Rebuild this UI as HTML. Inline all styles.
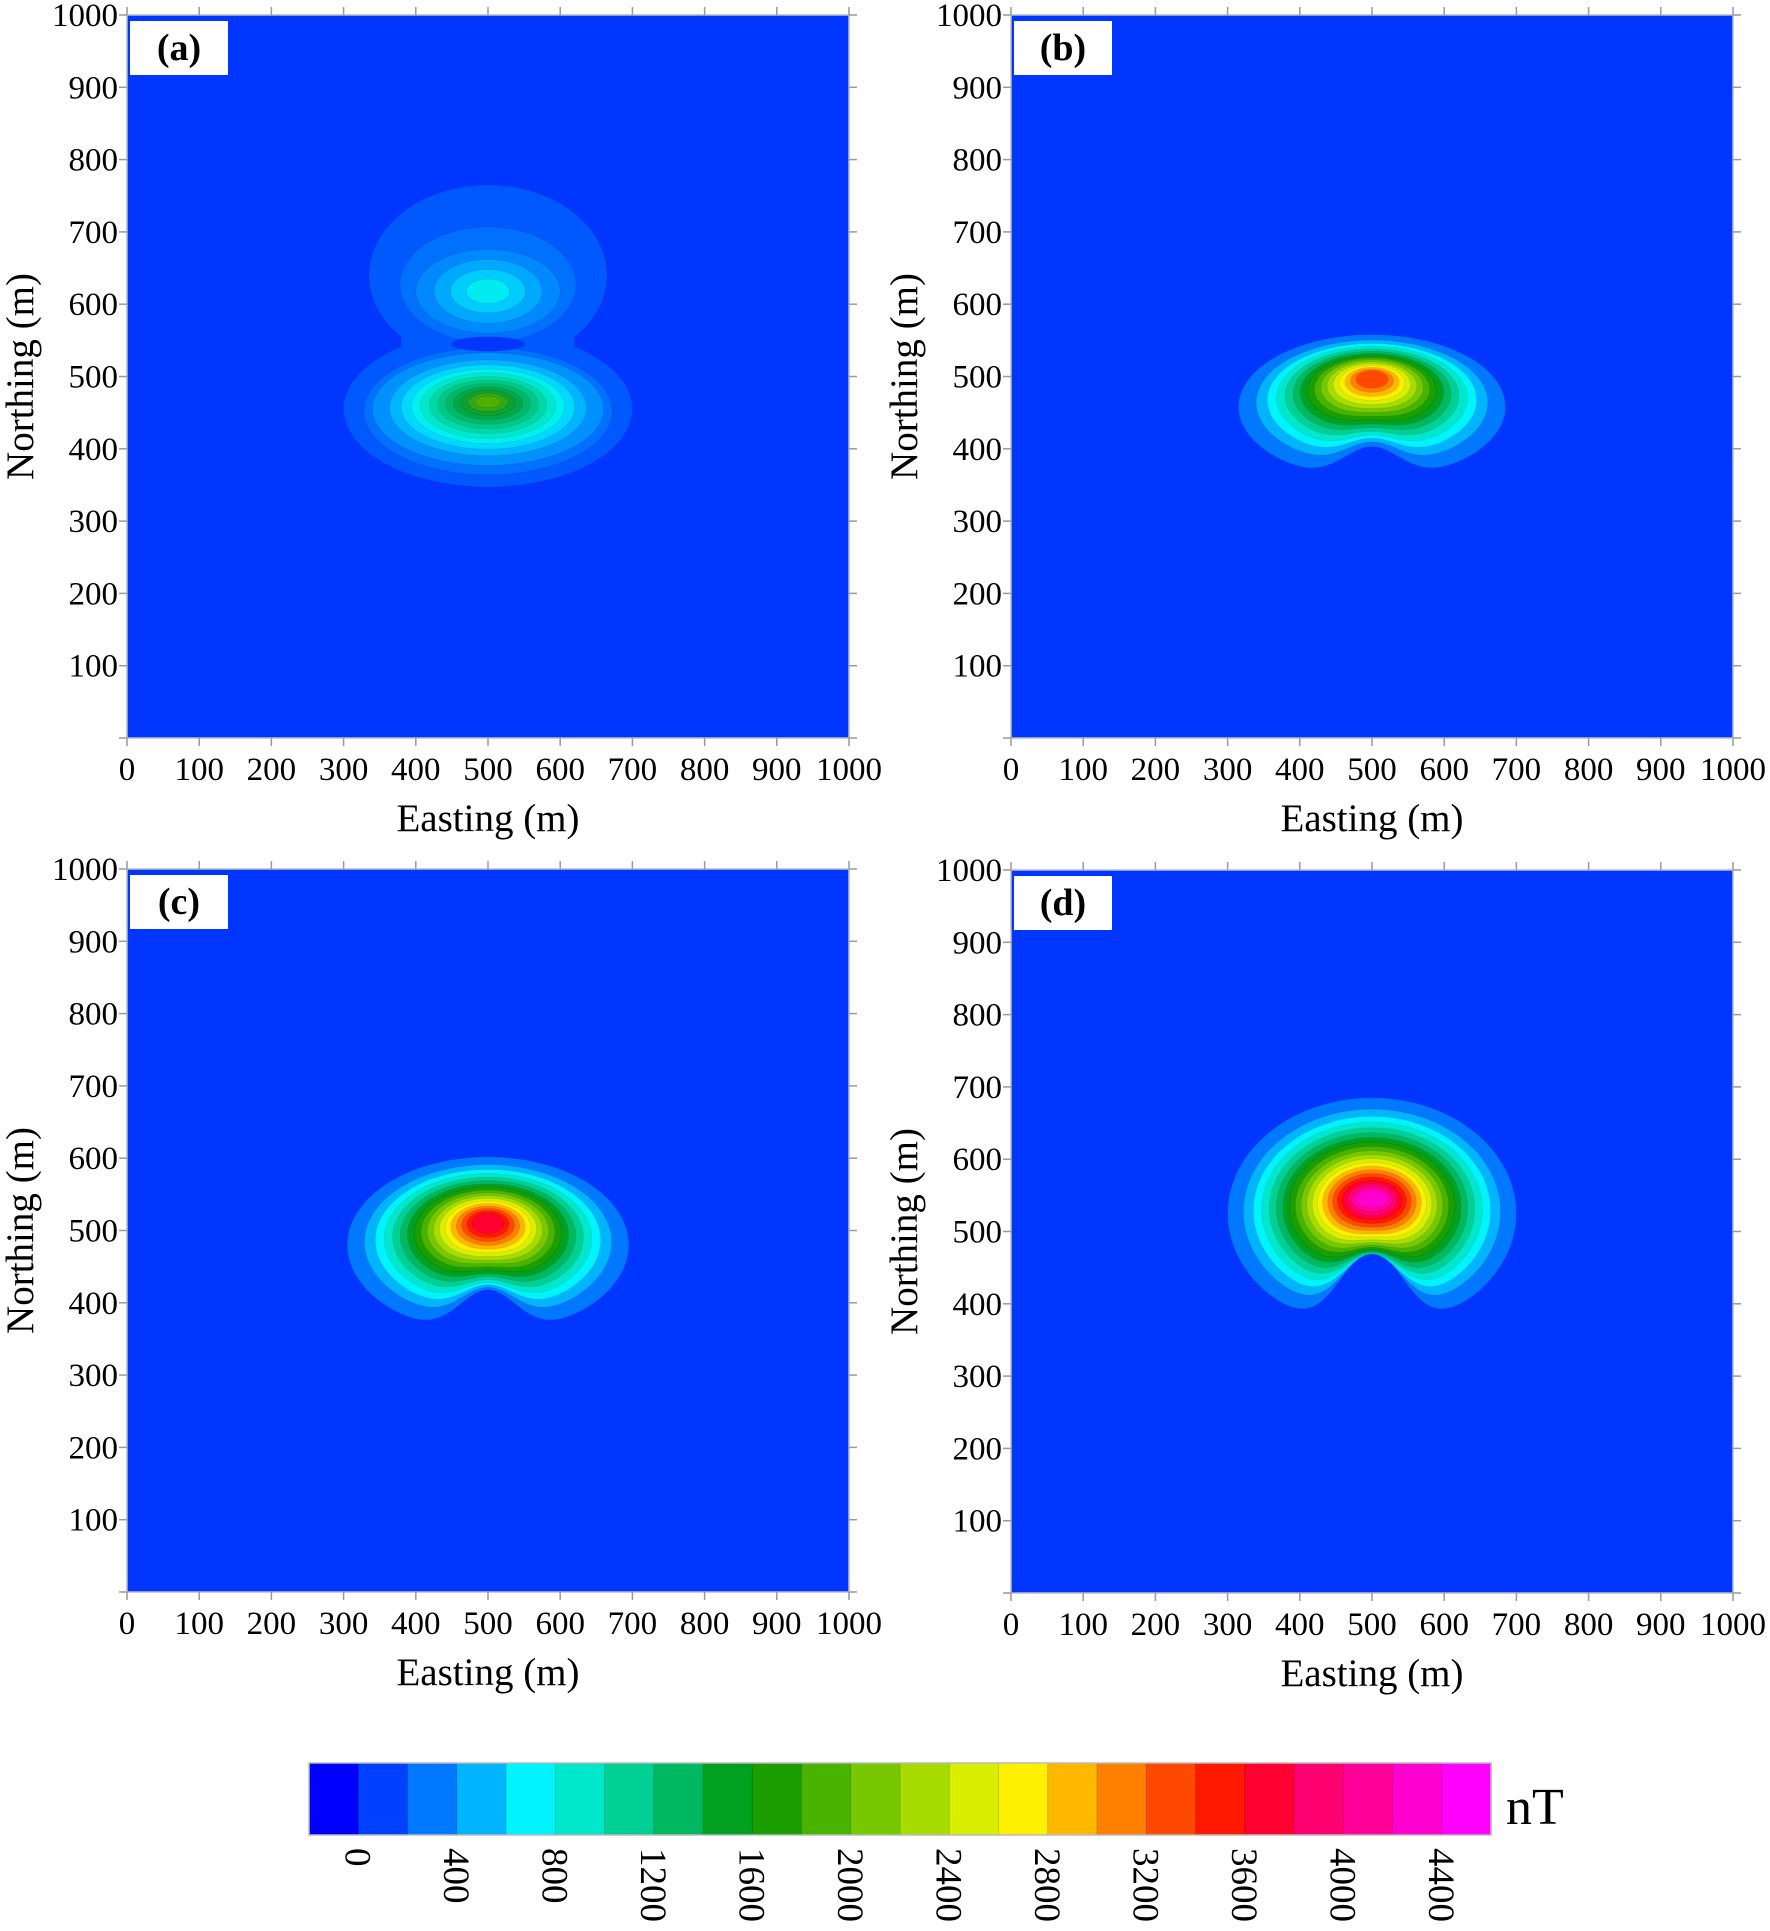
<!DOCTYPE html>
<html><head><meta charset="utf-8">
<style>
html,body{margin:0;padding:0;background:#fff;}
body{width:1770px;height:1931px;position:relative;overflow:hidden;font-family:"Liberation Serif",serif;}
svg{position:absolute;left:0;top:0;}
</style></head>
<body>
<svg id="s" width="1770" height="1931" viewBox="0 0 1770 1931" xmlns="http://www.w3.org/2000/svg"></svg>
<script>
var C=["#0000ff","#0040ff","#0078ff","#00b4ff","#00f4ff","#00e8cc","#00d094","#00b860","#00a020","#1a9e00","#48b400","#78c800","#a8dc00","#d8f000","#fff000","#ffb800","#ff8000","#ff4800","#ff1800","#ff0030","#ff0070","#ff0098","#ff00d0","#ff00ff"];
var BG="#0036ff";
var s=document.getElementById('s'),h='';
function lerp(a,b,t){return a+(b-a)*t;}
function panel(L,T,lab,draw){
 var W=722,H=723;
 h+='<rect x="'+L+'" y="'+T+'" width="'+W+'" height="'+H+'" fill="'+BG+'"/>';
 h+='<g transform="translate('+L+','+T+') scale('+(W/1000)+','+(H/1000)+')">'+draw()+'</g>';
 h+='<rect x="'+L+'" y="'+T+'" width="'+W+'" height="'+H+'" fill="none" stroke="#bbb" stroke-width="1.5"/>';
 for(var i=0;i<=10;i++){
  var x=L+W*i/10,y=T+H-H*i/10;
  h+='<line x1="'+x+'" y1="'+(T+H)+'" x2="'+x+'" y2="'+(T+H+8)+'" stroke="#999" stroke-width="1.5"/>';
  h+='<line x1="'+x+'" y1="'+T+'" x2="'+x+'" y2="'+(T-8)+'" stroke="#999" stroke-width="1.5"/>';
  h+='<line x1="'+L+'" y1="'+y+'" x2="'+(L-8)+'" y2="'+y+'" stroke="#999" stroke-width="1.5"/>';
  h+='<line x1="'+(L+W)+'" y1="'+y+'" x2="'+(L+W+8)+'" y2="'+y+'" stroke="#999" stroke-width="1.5"/>';
  h+='<text x="'+x+'" y="'+(T+H+42)+'" font-size="33" text-anchor="middle">'+(i*100)+'</text>';
  if(i>0)h+='<text x="'+(L-9)+'" y="'+(y+11)+'" font-size="33" text-anchor="end">'+(i*100)+'</text>';
 }
 h+='<text x="'+(L+W/2)+'" y="'+(T+H+93)+'" font-size="39" text-anchor="middle">Easting (m)</text>';
 h+='<text transform="translate('+(L-94)+','+(T+H/2)+') rotate(-90)" font-size="39" text-anchor="middle">Northing (m)</text>';
 h+='<rect x="'+(L+3)+'" y="'+(T+6)+'" width="98" height="54" fill="#fff"/>';
 h+='<text x="'+(L+52)+'" y="'+(T+45)+'" font-size="38" font-weight="bold" text-anchor="middle">'+lab+'</text>';
}
function ell(cx,cy,rx,ry,c){return '<ellipse cx="'+cx+'" cy="'+(1000-cy)+'" rx="'+rx+'" ry="'+ry+'" fill="'+c+'" stroke="rgba(0,0,0,0.12)" stroke-width="1"/>';}
function bean(o,p,n,c0,c1){
 var r='';
 for(var k=0;k<n;k++){
  var t=k/(n-1),u=Math.pow(t,0.7);
  var cy=lerp(o.cy,p.cy,u),rx=lerp(o.rx,p.rx,u),ry=lerp(o.ry,p.ry,u);
  var dep=o.d*(1-u)*(1-u),wd=lerp(o.w,p.rx,u*0.5);
  var pts=[];
  for(var a=0;a<120;a++){
   var th=a/120*Math.PI*2,x=500+rx*Math.cos(th),y=cy+ry*Math.sin(th);
   if(Math.sin(th)<0){y+=dep*Math.exp(-Math.pow((x-500)/wd,2)*1.5)*(-Math.sin(th));}
   pts.push(x.toFixed(1)+','+(1000-y).toFixed(1));
  }
  var ci=Math.round(lerp(c0,c1,t));
  r+='<polygon points="'+pts.join(' ')+'" fill="'+C[ci]+'" stroke="rgba(0,0,0,0.12)" stroke-width="1"/>';
 }
 return r;
}
panel(127,15,'(a)',function(){
 var r='';
 r+=ell(500,640,165,125,"#0058ff")+ell(500,455,200,108,"#0058ff");
 r+='<rect x="380" y="'+(1000-565)+'" width="240" height="35" fill="#0058ff"/>';
 r+=ell(500,627,122,80,"#0070ff")+ell(500,452,172,88,"#0070ff");
 r+=ell(500,545,50,10,BG);
 var up=[[100,58,"#0088ff"],[75,44,"#00a8ff"],[52,30,"#00ccff"],[30,17,"#00ecf0"]];
 up.forEach(function(q){r+=ell(500,618,q[0],q[1],q[2]);});
 var lo=["#0090ff","#00b4ff","#00d8ff","#00f0f0","#00e8cc","#00d8a8","#00c888","#00b868","#00a848","#10a030","#30a818","#50b000"];
 for(var i=0;i<lo.length;i++){var t=Math.pow(i/(lo.length-1),0.75);r+=ell(500,lerp(455,465,t),lerp(160,18,t),lerp(78,8,t),lo[i]);}
 return r;});
panel(1011,15,'(b)',function(){return bean({cy:458,rx:185,ry:100,d:45,w:70},{cy:496,rx:22,ry:12},16,2,17);});
panel(127,869,'(c)',function(){return bean({cy:480,rx:195,ry:122,d:60,w:70},{cy:510,rx:22,ry:14},18,2,19);});
panel(1011,870,'(d)',function(){return bean({cy:525,rx:200,ry:160,d:110,w:75},{cy:545,rx:22,ry:12},21,2,22);});
var X0=309,Y0=1763,BW=1182/24,BH=72;
for(var i=0;i<24;i++){h+='<rect x="'+(X0+i*BW)+'" y="'+Y0+'" width="'+(BW+0.5)+'" height="'+BH+'" fill="'+C[i]+'" stroke="rgba(0,0,0,0.2)" stroke-width="0.8"/>';}
h+='<rect x="'+X0+'" y="'+Y0+'" width="1182" height="'+BH+'" fill="none" stroke="#bbb" stroke-width="1.5"/>';
for(var k=0;k<12;k++){var x=X0+BW*(1+2*k);h+='<text transform="translate('+(x-13)+',1848) rotate(90)" font-size="37">'+(k*400)+'</text>';}
h+='<text x="1506" y="1824" font-size="52">nT</text>';
s.innerHTML=h;
</script>
</body></html>
